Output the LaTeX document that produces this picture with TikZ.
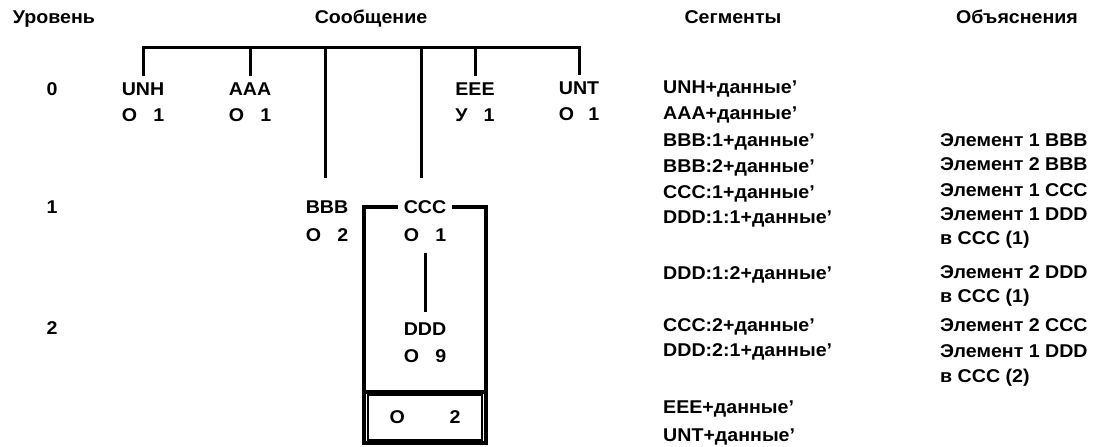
\documentclass[tikz,border=0pt]{standalone}
\usepackage{fontspec}
\setmainfont{Liberation Sans}[FakeStretch=1.06]
\newlength\segw
\newcommand\stat[3]{\settowidth\segw{#1}\hbox to\segw{#2\hfill #3}}
\tikzset{
  txt/.style={inner sep=0pt, text height=13.2pt, text depth=0pt,
    font=\fontsize{18.5}{22}\selectfont\bfseries},
  seg/.style={txt, anchor=west},
  ln/.style={line width=3pt},
  bx/.style={line width=3.5pt, line join=miter},
}
\begin{document}
\begin{tikzpicture}[x=1pt,y=-1pt]
\useasboundingbox (0,0) rectangle (1098,447);
% headers
\node[txt] (hLev) at (54,17) {Уровень};
\node[txt] (hMsg) at (371,17) {Сообщение};
\node[txt] (hSeg) at (733,17) {Сегменты};
\node[txt] (hExp) at (1017,17) {Объяснения};
% levels
\node[txt] (l0) at (52,89) {0};
\node[txt] (l1) at (52,207) {1};
\node[txt] (l2) at (52,328) {2};
% segment groups
\node[txt] (UNH) at (143,89) {UNH};
\node[txt] (UNHs) at (143,115) {\stat{UNH}{О}{1}};
\node[txt] (AAA) at (250,89) {AAA};
\node[txt] (AAAs) at (250,115) {\stat{AAA}{О}{1}};
\node[txt] (EEE) at (475,89) {EEE};
\node[txt] (EEEs) at (475,115) {\stat{EEE}{У}{1}};
\node[txt] (UNT) at (579,88) {UNT};
\node[txt] (UNTs) at (579,114) {\stat{UNT}{О}{1}};
\node[txt] (BBB) at (327,207) {BBB};
\node[txt] (BBBs) at (327,235) {\stat{BBB}{О}{2}};
\node[txt] (CCC) at (425,207) {CCC};
\node[txt] (CCCs) at (425,235) {\stat{CCC}{О}{1}};
\node[txt] (DDD) at (425,329) {DDD};
\node[txt] (DDDs) at (425,356) {\stat{DDD}{О}{9}};
% tree
\coordinate (bar) at (0,47);
\draw[ln, line join=miter] ([yshift=6pt]UNH.north) |- (bar -| UNT.north) -- ([yshift=6pt]UNT.north);
\draw[ln] (AAA.north |- bar) -- ([yshift=6pt]AAA.north);
\draw[ln] (EEE.north |- bar) -- ([yshift=6pt]EEE.north);
\draw[ln] ([xshift=-2pt]BBB.north |- bar) -- ([xshift=-2pt,yshift=22pt]BBB.north);
\draw[ln] ([xshift=-4pt]CCC.north |- bar) -- ([xshift=-4pt,yshift=22pt]CCC.north);
% CCC group box
\coordinate (boxBL) at (364,443);
\coordinate (boxBR) at (486,443);
\coordinate (sep) at (0,392);
\draw[bx] ([xshift=-6pt]CCC.west) -| (boxBL) -- (boxBR) |- ([xshift=6pt]CCC.east);
\draw[bx] (boxBL |- sep) -- (boxBR |- sep);
\node[txt, draw, line width=1.5pt, minimum width=114pt, minimum height=45pt,
  text height=, text depth=] (bot) at (425,417.5) {\hbox to 71pt{О\hfill 2}};
\draw[ln] ([yshift=-11pt]CCCs.south) -- ([yshift=10pt]DDD.north);
% segments column
\node[seg] (s1) at (663,87) {UNH+данные'};
\node[seg] (s2) at (663,113) {AAA+данные'};
\node[seg] (s3) at (663,140) {BBB:1+данные'};
\node[seg] (s4) at (663,166) {BBB:2+данные'};
\node[seg] (s5) at (663,192) {CCC:1+данные'};
\node[seg] (s6) at (663,217) {DDD:1:1+данные'};
\node[seg] (s7) at (663,273) {DDD:1:2+данные'};
\node[seg] (s8) at (663,325) {CCC:2+данные'};
\node[seg] (s9) at (663,350) {DDD:2:1+данные'};
\node[seg] (s10) at (663,407) {EEE+данные'};
\node[seg] (s11) at (663,435) {UNT+данные'};
% explanations column
\node[seg] (e1) at (940,140) {Элемент 1 BBB};
\node[seg] (e2) at (940,164) {Элемент 2 BBB};
\node[seg] (e3) at (940,190) {Элемент 1 CCC};
\node[seg] (e4) at (940,214) {Элемент 1 DDD};
\node[seg] (e5) at (940,238) {в CCC (1)};
\node[seg] (e6) at (940,272) {Элемент 2 DDD};
\node[seg] (e7) at (940,296) {в CCC (1)};
\node[seg] (e8) at (940,325) {Элемент 2 CCC};
\node[seg] (e9) at (940,351) {Элемент 1 DDD};
\node[seg] (e10) at (940,376) {в CCC (2)};
\end{tikzpicture}
\end{document}
